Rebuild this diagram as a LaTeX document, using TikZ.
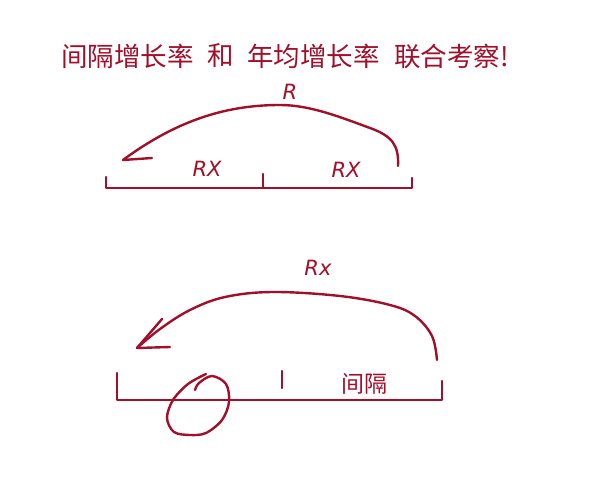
\documentclass[tikz,border=0pt]{standalone}
\usepackage{fontspec}
\newfontfamily\cjk{Noto Sans CJK SC}
\newfontfamily\handfont{DejaVu Sans}
\definecolor{ink}{RGB}{160,16,42}
\begin{document}
\begin{tikzpicture}[x=1pt,y=-1pt,
  pen/.style={draw=ink,line width=2.4pt,line cap=round,line join=round},
  title/.style={anchor=west,inner sep=0pt,text=ink,font=\cjk\fontsize{26.5}{30}\selectfont},
  hand/.style={inner sep=0pt,text=ink,font=\handfont\itshape\fontsize{21}{24}\selectfont},
  handcjk/.style={inner sep=0pt,text=ink,font=\cjk\fontsize{23}{26}\selectfont}]
\useasboundingbox[fill=white] (0,0) rectangle (610,481);
% title
\node[title] (t1) at (61,56) {间隔增长率};
\node[title] (t2) at (207,56) {和};
\node[title] (t3) at (247,56) {年均增长率};
\node[title] (t4) at (394,56) {联合考察!};
% ---- upper sketch ----
\coordinate (uL0) at (106,177);
\coordinate (uL) at (106,188);
\coordinate (uR) at (412,188);
\coordinate (uR0) at (412,178);
\coordinate (uM0) at (263,174);
\coordinate (uM) at (263,188);
\draw[pen] (uL0) -- (uL) -- (uR) -- (uR0);
\draw[pen] (uM0) -- (uM);
\coordinate (ua0) at (398,166);
\coordinate (utip) at (123,160);
\coordinate (ubarb) at (152,158);
\draw[pen] (ua0) .. controls (399,145) and (392,136) .. (370,128)
  .. controls (340,117) and (310,105) .. (280,105)
  .. controls (230,105) and (180,118) .. (utip);
\draw[pen] (utip) -- (ubarb);
\node[hand] (uR1) at (290,92) {R};
\node[hand] (uRx1) at (207,169) {RX};
\node[hand] (uRx2) at (346,170) {RX};
% ---- lower sketch ----
\coordinate (lL0) at (117,373);
\coordinate (lL) at (117,400);
\coordinate (lR) at (442,400);
\coordinate (lR0) at (442,381);
\draw[pen] (lL0) -- (lL) -- (lR) -- (lR0);
\coordinate (lM0) at (282,371);
\coordinate (lM) at (282,388);
\draw[pen] (lM0) -- (lM);
\coordinate (la0) at (437,360);
\coordinate (ltip) at (137,348);
\coordinate (lbarb) at (170,347);
\coordinate (lbarb2) at (162,319);
\draw[pen] plot[smooth,tension=0.6] coordinates {(la0) (432,336) (415,316) (390,305) (340,296) (273,292) (225,297) (190,310) (160,329) (ltip)};
\draw[pen] (ltip) -- (lbarb);
\draw[pen] (ltip) -- (lbarb2);
\node[hand] (lR1) at (318,268) {Rx};
% circle
\draw[pen] plot[smooth,tension=0.55] coordinates {(206,374) (188,384) (173,400) (167,418) (174,432) (190,435) (206,433) (222,420) (229,402) (226,384) (212,376) (199,383) (195,390)};
% handwritten label
\node[handcjk] (lJ) at (364,384) {间隔};
\end{tikzpicture}
\end{document}
